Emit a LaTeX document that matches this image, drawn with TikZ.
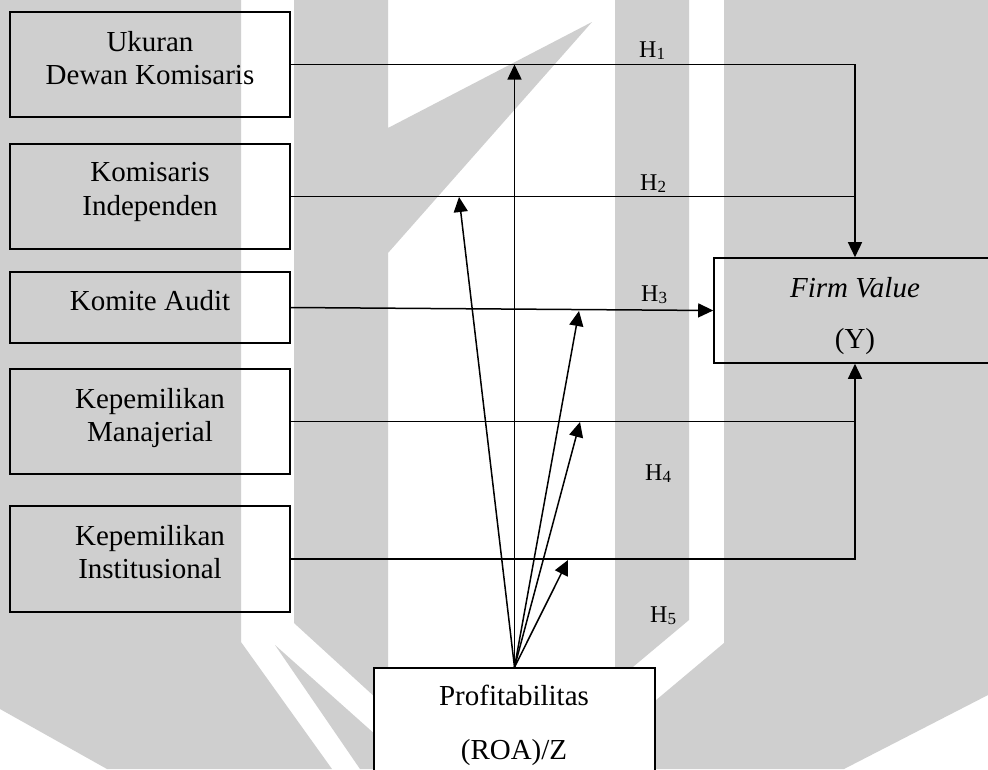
\documentclass[tikz,border=0pt]{standalone}
\usepackage{fontspec}
\setmainfont{Liberation Serif}
\usetikzlibrary{arrows.meta}
\definecolor{wm}{RGB}{207,207,207}
\newcommand\hsub[1]{\raisebox{-2pt}{\fontsize{17}{17}\selectfont #1}}
\begin{document}
\begin{tikzpicture}[x=1pt,y=-1pt,
  box/.style={draw, line width=1.6pt, inner sep=0pt, minimum width=280pt},
  txt/.style={inner sep=0pt, anchor=base, font=\fontsize{29}{33}\selectfont},
  hlab/.style={inner sep=0pt, anchor=base west, font=\fontsize{24}{26}\selectfont},
  conn/.style={line width=1.5pt},
  arr/.style={conn, -{Triangle[length=15pt,width=14pt]}}]
\useasboundingbox (0,0) rectangle (988,769);
\fill[white] (0,0) rectangle (988,769);
% watermark
\fill[wm] (0,0) -- (241,0) -- (241,642) -- (332,769) -- (107,769) -- (0,709) -- cycle;
\fill[wm] (294,0) -- (388,0) -- (388,128) -- (592,22) -- (388,253) -- (388,709) -- (294,623) -- cycle;
\fill[wm] (275,645) -- (414,769) -- (360,769) -- cycle;
\fill[wm] (615,0) -- (689,0) -- (689,620) -- (615,682) -- cycle;
\fill[wm] (724,0) -- (988,0) -- (988,695) -- (844,769) -- (574,769) -- (724,643) -- cycle;
% boxes
\node[box, minimum height=105pt] (b1) at (150,64.5) {};
\node[box, minimum height=105pt] (b2) at (150,196.5) {};
\node[box, minimum height=71pt] (b3) at (150,307.5) {};
\node[box, minimum height=105pt] (b4) at (150,421.5) {};
\node[box, minimum height=106pt] (b5) at (150,559) {};
\node[box, minimum width=282pt, minimum height=105pt] (fv) at (855,310.5) {};
\node[box, fill=white, minimum width=281pt, minimum height=160pt] (pr) at (514.5,748) {};
% texts
\node[txt] (t1a) at (150,51.7) {Ukuran};
\node[txt] (t1b) at (150,84) {Dewan Komisaris};
\node[txt] (t2a) at (150,181.7) {Komisaris};
\node[txt] (t2b) at (150,215) {Independen};
\node[txt] (t3) at (150,310) {Komite Audit};
\node[txt] (t4a) at (150,408.3) {Kepemilikan};
\node[txt] (t4b) at (150,441) {Manajerial};
\node[txt] (t5a) at (150,545) {Kepemilikan};
\node[txt] (t5b) at (150,578) {Institusional};
\node[txt] (tfa) at (855,297) {\itshape Firm Value};
\node[txt] (tfb) at (855,348) {(Y)};
\node[txt] (tpa) at (514,705) {Profitabilitas};
\node[txt] (tpb) at (514,759) {(ROA)/Z};
% hypothesis labels
\node[hlab] (h1) at (639,57.3) {H\hsub{1}};
\node[hlab] (h2) at (640,190.7) {H\hsub{2}};
\node[hlab] (h3) at (641,301.7) {H\hsub{3}};
\node[hlab] (h4) at (645,480) {H\hsub{4}};
\node[hlab] (h5) at (650,622) {H\hsub{5}};
% connectors
\draw[arr] (b1.east) -- (b1.east -| fv.north) -- (fv.north);
\draw[conn] (b2.east) -- (b2.east -| fv.north);
\draw[arr] (b3.east) -- (fv.west);
\draw[conn] (b4.east) -- (b4.east -| fv.south);
\draw[arr] (b5.east) -- (b5.east -| fv.south) -- (fv.south);
% moderation arrows
\coordinate (a2) at (459,197);
\coordinate (a3) at (579,311);
\coordinate (a4) at (580,422);
\coordinate (a5) at (568,560);
\draw[arr] (pr.north) -- (pr.north |- b1.east);
\draw[arr] (pr.north) -- (a2);
\draw[arr] (pr.north) -- (a3);
\draw[arr] (pr.north) -- (a4);
\draw[arr] (pr.north) -- (a5);
\end{tikzpicture}
\end{document}
